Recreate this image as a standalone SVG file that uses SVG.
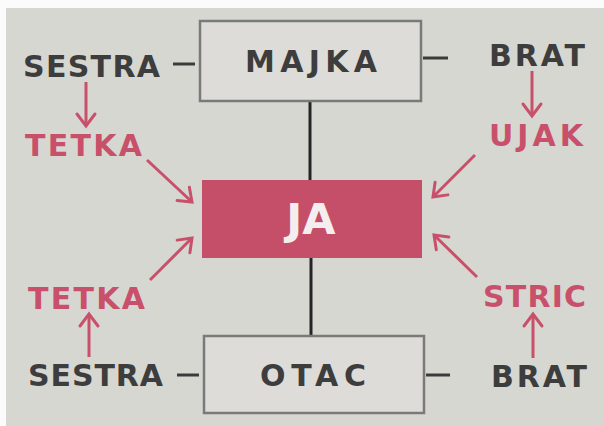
<svg xmlns="http://www.w3.org/2000/svg" width="604" height="426" viewBox="0 0 604 426">
<defs>
<style>
.t{font-family:"DejaVu Sans","Liberation Sans",sans-serif;font-weight:700;font-size:30px;}
.dk{fill:#3d3d3d;}
.pk{fill:#c9506b;}
.box{fill:#dddcd8;stroke:#7a7a78;stroke-width:2.5;}
.ar{stroke:#c9506b;stroke-width:3;fill:none;marker-end:url(#ah);}
.dash{stroke:#3b3b3b;stroke-width:3;}
.vl{stroke:#252525;stroke-width:3;}
</style>
<marker id="ah" markerUnits="userSpaceOnUse" markerWidth="30" markerHeight="30" viewBox="-15 -15 30 30" refX="0" refY="0" orient="auto">
<path d="M-12,-9 L0,0 L-12,9" fill="none" stroke="#c9506b" stroke-width="3" stroke-linecap="round"/>
</marker>
</defs>
<rect x="0" y="0" width="604" height="426" fill="#d7d7d2"/>
<rect x="0" y="0" width="604" height="8" fill="#fbfbfb"/>
<rect x="0" y="0" width="6" height="426" fill="#fbfbfb"/>
<g id="connectors">
<line class="vl" x1="310" y1="101" x2="310" y2="180"/>
<line class="vl" x1="311" y1="258" x2="311" y2="336"/>
<line class="dash" x1="173" y1="64" x2="195" y2="64"/>
<line class="dash" x1="423" y1="58" x2="448" y2="58"/>
<line class="dash" x1="177" y1="375" x2="199" y2="375"/>
<line class="dash" x1="426" y1="375" x2="450" y2="375"/>
<line class="ar" x1="86" y1="82" x2="86" y2="126"/>
<line class="ar" x1="532" y1="71" x2="532" y2="116"/>
<line class="ar" x1="89" y1="357" x2="89" y2="314"/>
<line class="ar" x1="533" y1="358" x2="533" y2="314"/>
<line class="ar" x1="147" y1="160" x2="192" y2="202"/>
<line class="ar" x1="475" y1="155" x2="433" y2="197"/>
<line class="ar" x1="150" y1="280" x2="192" y2="238"/>
<line class="ar" x1="477" y1="277" x2="434" y2="235"/>
</g>
<g id="majka">
<rect class="box" x="200" y="21" width="221" height="80"/>
<text class="t dk" x="245" y="72" textLength="132" lengthAdjust="spacing">MAJKA</text>
</g>
<g id="ja">
<rect x="202" y="180" width="220" height="78" fill="#c54f68"/>
<text class="t" x="311" y="234" style="font-size:43px" fill="#f4eef0" text-anchor="middle">JA</text>
</g>
<g id="otac">
<rect class="box" x="204" y="336" width="220" height="77"/>
<text class="t dk" x="260" y="386" textLength="106" lengthAdjust="spacing">OTAC</text>
</g>
<g id="sestra-top"><text class="t dk" x="23" y="77" textLength="137" lengthAdjust="spacing">SESTRA</text></g>
<g id="brat-top"><text class="t dk" x="489" y="66" textLength="96" lengthAdjust="spacing">BRAT</text></g>
<g id="tetka-top"><text class="t pk" x="25" y="156" textLength="117" lengthAdjust="spacing">TETKA</text></g>
<g id="ujak"><text class="t pk" x="489" y="146" textLength="94" lengthAdjust="spacing">UJAK</text></g>
<g id="tetka-bottom"><text class="t pk" x="28" y="309" textLength="117" lengthAdjust="spacing">TETKA</text></g>
<g id="stric"><text class="t pk" x="483" y="307" textLength="103" lengthAdjust="spacing">STRIC</text></g>
<g id="sestra-bottom"><text class="t dk" x="28" y="386" textLength="135" lengthAdjust="spacing">SESTRA</text></g>
<g id="brat-bottom"><text class="t dk" x="491" y="387" textLength="96" lengthAdjust="spacing">BRAT</text></g>
</svg>
